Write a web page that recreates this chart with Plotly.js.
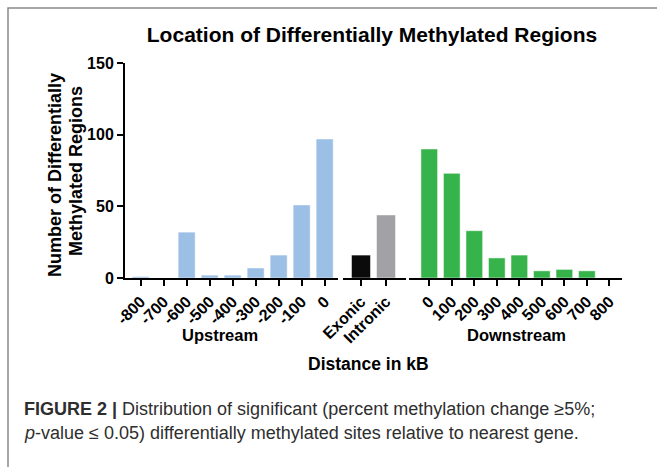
<!DOCTYPE html>
<html>
<head>
<meta charset="utf-8">
<script src="https://cdn.plot.ly/plotly-3.0.1.min.js"></script>
<style>html,body{margin:0;padding:0;background:#fff;}#chart{width:657px;height:467px;}</style>
</head>
<body>
<div id="chart"></div>
<script>
// Data
var upstreamLabels = ["-800", "-700", "-600", "-500", "-400", "-300", "-200", "-100", "0"];
var upstreamValues = [1, 0, 32, 2, 2, 7, 16, 51, 97];
var geneLabels = ["Exonic", "Intronic"];
var geneValues = [16, 44];
var geneColors = ["#0b0b0b", "#a2a2a6"];
var downstreamLabels = ["0", "100", "200", "300", "400", "500", "600", "700", "800"];
var downstreamValues = [90, 73, 33, 14, 16, 5, 6, 5, 0];

var FONT = "Liberation Sans, Arial, Helvetica, sans-serif";

var traces = [
  {type: "bar", x: upstreamLabels, y: upstreamValues, xaxis: "x", yaxis: "y",
   width: 0.74, marker: {color: "#9bbfe5", line: {color: "#ffffff", width: 0.5}}, hoverinfo: "x+y"},
  {type: "bar", x: geneLabels, y: geneValues, xaxis: "x2", yaxis: "y",
   width: 0.76, marker: {color: geneColors, line: {color: "#ffffff", width: 0.5}}, hoverinfo: "x+y"},
  {type: "bar", x: downstreamLabels, y: downstreamValues, xaxis: "x3", yaxis: "y",
   width: 0.74, marker: {color: "#36b34a", line: {color: "#ffffff", width: 0.5}}, hoverinfo: "x+y"}
];

function xax(domain, range) {
  return {
    domain: domain, range: range, type: "category", anchor: "y",
    showline: true, linecolor: "#000", linewidth: 2,
    ticks: "outside", ticklen: 6, tickwidth: 2, tickcolor: "#000",
    tickangle: -45, showgrid: false, zeroline: false, fixedrange: true,
    tickfont: {family: FONT, size: 16, color: "#000", weight: "bold"}
  };
}

var L = 125, T = 63, W = 497, H = 215;
function px(x) { return (x - L) / W; }
function py(y) { return (T + H - y) / H; }

function note(text, x, y, size, opts) {
  var a = {text: text, xref: "paper", yref: "paper", x: px(x), y: py(y),
           xanchor: "center", yanchor: "middle", showarrow: false,
           font: {family: FONT, size: size, color: "#000"}};
  for (var k in (opts || {})) a[k] = opts[k];
  return a;
}

var layout = {
  width: 657, height: 467,
  margin: {l: L, r: 657 - L - W, t: T, b: 467 - T - H},
  paper_bgcolor: "#ffffff", plot_bgcolor: "#ffffff",
  showlegend: false, bargap: 0,
  font: {family: FONT, color: "#000"},
  title: {text: "<b>Location of Differentially Methylated Regions</b>",
          font: {family: FONT, size: 21, color: "#000"},
          xref: "paper", x: px(372), xanchor: "center",
          yref: "container", y: 1 - 35 / 467, yanchor: "middle"},
  xaxis: xax([0, px(338)], [-0.68, 8.58]),
  xaxis2: xax([px(343), px(406)], [-0.72, 1.8]),
  xaxis3: xax([px(409), 1], [-0.9, 8.56]),
  yaxis: {
    range: [0, 150], tickvals: [0, 50, 100, 150], ticktext: ["0", "50", "100", "150"],
    showline: true, linecolor: "#000", linewidth: 2,
    ticks: "outside", ticklen: 6, tickwidth: 2, tickcolor: "#000",
    showgrid: false, zeroline: false, fixedrange: true,
    tickfont: {family: FONT, size: 16, color: "#000", weight: "bold"}
  },
  annotations: [
    note("<b>Number of Differentially</b>", 55, 175, 18, {textangle: -90}),
    note("<b>Methylated Regions</b>", 76, 171, 18, {textangle: -90}),
    note("<b>Upstream</b>", 220, 335, 16.5),
    note("<b>Downstream</b>", 516, 335, 16.5),
    note("<b>Distance in kB</b>", 368, 364, 17.5),
    note("<b>FIGURE 2 |</b> Distribution of significant (percent methylation change \u22655%;",
         22, 409, 18, {xanchor: "left", font: {family: FONT, size: 18, color: "#2e2e2e"}}),
    note("<i>p</i>-value \u2264 0.05) differentially methylated sites relative to nearest gene.",
         22, 433, 18, {xanchor: "left", font: {family: FONT, size: 18, color: "#2e2e2e"}})
  ],
  shapes: [
    {type: "rect", xref: "paper", yref: "paper", x0: px(8), x1: px(665), y0: py(475), y1: py(8),
     line: {color: "#8a8a8a", width: 1.5}, fillcolor: "rgba(0,0,0,0)", layer: "below"}
  ]
};

Plotly.newPlot("chart", traces, layout, {displayModeBar: false, staticPlot: true});
</script>
</body>
</html>
